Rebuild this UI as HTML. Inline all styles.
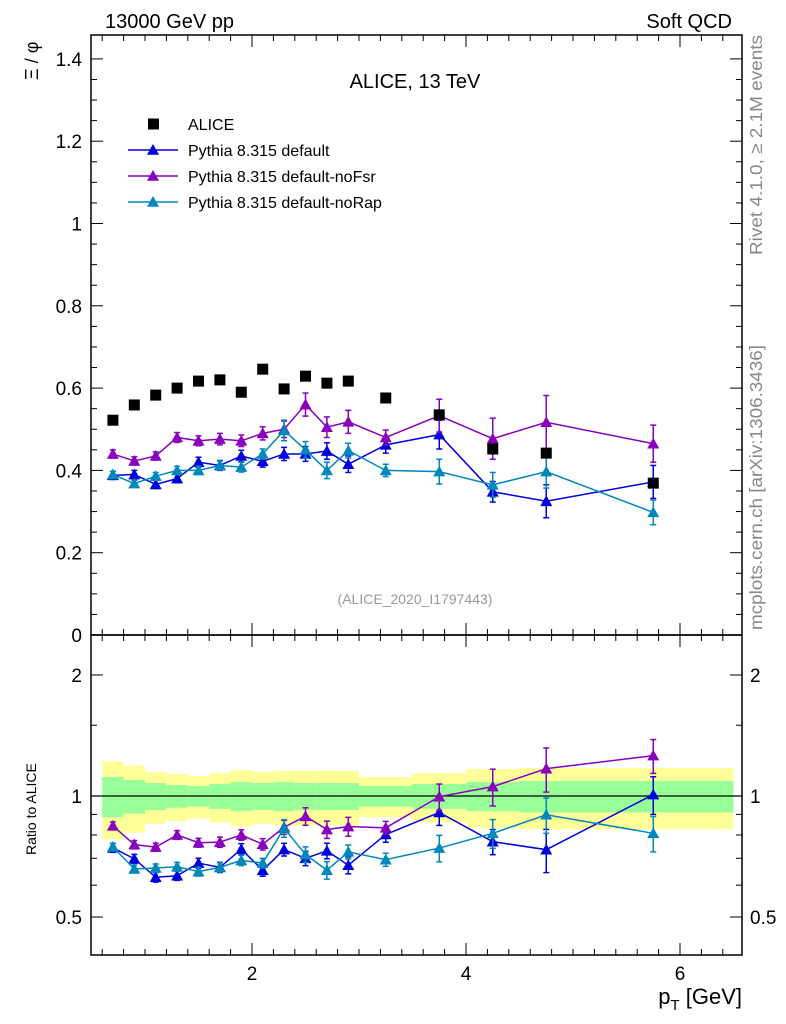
<!DOCTYPE html>
<html><head><meta charset="utf-8"><style>
html,body{margin:0;padding:0;background:#fff}
svg{display:block;font-family:"Liberation Sans",sans-serif}
</style></head><body>
<svg id="c" width="786" height="1024" viewBox="0 0 786 1024">
<text x="105" y="28" font-size="20">13000 GeV pp</text>
<text x="732" y="28" font-size="20" text-anchor="end">Soft QCD</text>
<text x="415" y="88" font-size="20" text-anchor="middle">ALICE, 13 TeV</text>
<text x="415" y="604" font-size="14" fill="#999" text-anchor="middle">(ALICE_2020_I1797443)</text>
<text transform="translate(38,80) rotate(-90)" font-size="18">Ξ / φ</text>
<text transform="translate(36,855) rotate(-90)" font-size="14">Ratio to ALICE</text>
<text x="742" y="1004" font-size="22" text-anchor="end">p<tspan font-size="15" dy="6">T</tspan><tspan dy="-6"> [GeV]</tspan></text>
<text transform="translate(762,255) rotate(-90)" font-size="17.5" fill="#888" textLength="220" lengthAdjust="spacingAndGlyphs">Rivet 4.1.0, ≥ 2.1M events</text>
<text transform="translate(762,630) rotate(-90)" font-size="17.5" fill="#888" textLength="285" lengthAdjust="spacingAndGlyphs">mcplots.cern.ch [arXiv:1306.3436]</text>
<g id="bands"></g>
<g id="axes"></g>
<g id="series"></g>
<g id="legend"></g>
</svg>
<script>
const xs = [0.7,0.9,1.1,1.3,1.5,1.7,1.9,2.1,2.3,2.5,2.7,2.9,3.25,3.75,4.25,4.75,5.75];
const binEdges = [0.6,0.8,1.0,1.2,1.4,1.6,1.8,2.0,2.2,2.4,2.6,2.8,3.0,3.5,4.0,4.5,5.0,6.5];
const alice = [0.522,0.559,0.583,0.600,0.617,0.620,0.590,0.646,0.598,0.629,0.612,0.617,0.576,0.535,0.452,0.442,0.369];
const statRel = [0.115,0.096,0.077,0.065,0.059,0.071,0.083,0.077,0.083,0.077,0.077,0.077,0.059,0.071,0.083,0.09,0.09];
const totRel = [0.22,0.19,0.147,0.134,0.121,0.14,0.16,0.147,0.155,0.155,0.155,0.155,0.115,0.14,0.167,0.174,0.174];
const pyDefault = [0.388,0.390,0.366,0.380,0.420,0.412,0.435,0.422,0.440,0.440,0.447,0.415,0.462,0.487,0.348,0.325,0.372];
const pyDefaultErr = [0.01,0.01,0.01,0.01,0.012,0.012,0.014,0.014,0.016,0.018,0.02,0.02,0.02,0.035,0.025,0.04,0.04];
const pyNoFsr = [0.440,0.423,0.435,0.480,0.472,0.476,0.472,0.490,0.500,0.560,0.505,0.518,0.480,0.533,0.477,0.517,0.465];
const pyNoFsrErr = [0.01,0.01,0.01,0.012,0.012,0.014,0.014,0.016,0.02,0.028,0.025,0.028,0.018,0.04,0.05,0.065,0.045];
const pyNoRap = [0.390,0.368,0.386,0.400,0.400,0.412,0.408,0.440,0.497,0.450,0.400,0.448,0.400,0.397,0.365,0.397,0.298];
const pyNoRapErr = [0.008,0.008,0.009,0.01,0.01,0.011,0.012,0.012,0.025,0.02,0.02,0.018,0.015,0.03,0.03,0.04,0.03];
const mainTicks = [0,0.2,0.4,0.6,0.8,1,1.2,1.4];
const mainTickLabels = ["0","0.2","0.4","0.6","0.8","1","1.2","1.4"];
const ratioTicks = [0.5,1,2];
const ratioTickLabels = ["0.5","1","2"];
const xTicks = [2,4,6];
const xTickLabels = ["2","4","6"];

const NS="http://www.w3.org/2000/svg";
const L=91,R=742,T=35,M=635,B=955;
const X=v=>252+(v-2)*107;
const Y=v=>M-411.5*v;
const RY=r=>796-121*Math.log2(r);
function mk(p,tag,a){const e=document.createElementNS(NS,tag);for(const k in a)e.setAttribute(k,a[k]);p.appendChild(e);return e;}
const gB=document.getElementById('bands'),gA=document.getElementById('axes'),gS=document.getElementById('series'),gL=document.getElementById('legend');

for(let i=0;i<alice.length;i++){
  const x0=X(binEdges[i]),x1=X(binEdges[i+1]);
  const y=mk(gB,'rect',{x:x0,y:RY(1+totRel[i]),width:x1-x0,height:RY(1-totRel[i])-RY(1+totRel[i]),fill:'#ffff99'});
  
  
  const g=mk(gB,'rect',{x:x0,y:RY(1+statRel[i]),width:x1-x0,height:RY(1-statRel[i])-RY(1+statRel[i]),fill:'#99ff99'});
  
  
}
mk(gB,'line',{x1:L,x2:R,y1:RY(1),y2:RY(1),stroke:'#000','stroke-width':1.2});

const f1=mk(gA,'rect',{x:L,y:T,width:R-L,height:M-T,fill:'none',stroke:'#000','stroke-width':1.5});


const f2=mk(gA,'rect',{x:L,y:M,width:R-L,height:B-M,fill:'none',stroke:'#000','stroke-width':1.5});



for(let v=0;v<=1.45;v+=0.05){const y=Y(v);if(y<T)continue;const maj=Math.abs(v*5-Math.round(v*5))<1e-6;const l=maj?12:6;
 mk(gA,'line',{x1:L,x2:L+l,y1:y,y2:y,stroke:'#000'});mk(gA,'line',{x1:R,x2:R-l,y1:y,y2:y,stroke:'#000'});}
mainTicks.forEach((v,i)=>{const t=mk(gA,'text',{x:82,y:Y(v)+7,'font-size':19,'text-anchor':'end'});t.textContent=mainTickLabels[i];
 
 });
[0.4,0.5,0.6,0.7,0.8,0.9,1,1.5,2].forEach(r=>{const y=RY(r);if(y>B||y<M)return;const maj=(r===0.5||r===1||r===2);const l=maj?12:6;
 mk(gA,'line',{x1:L,x2:L+l,y1:y,y2:y,stroke:'#000'});mk(gA,'line',{x1:R,x2:R-l,y1:y,y2:y,stroke:'#000'});});
ratioTicks.forEach((v,i)=>{const t=mk(gA,'text',{x:82,y:RY(v)+7,'font-size':19,'text-anchor':'end'});t.textContent=ratioTickLabels[i];
 
 
 const t2=mk(gA,'text',{x:750,y:RY(v)+7,'font-size':19});t2.textContent=ratioTickLabels[i];
 
 });
for(let v=0.6;v<=6.6;v+=0.2){const x=X(v);if(x<L||x>R)continue;const maj=Math.abs(v-Math.round(v))<1e-6&&Math.round(v)%2===0;const l=maj?12:6;
 [[M,-1],[B,-1],[T,1],[M,1]].forEach(([y,d])=>mk(gA,'line',{x1:x,x2:x,y1:y,y2:y+d*l,stroke:'#000'}));}
xTicks.forEach((v,i)=>{const t=mk(gA,'text',{x:X(v),y:980,'font-size':19,'text-anchor':'middle'});t.textContent=xTickLabels[i];
 
 });

function tri(g,x,y,c,s){return mk(g,'polygon',{points:`${x},${y-s} ${x-s},${y+s*0.8} ${x+s},${y+s*0.8}`,fill:c});}
function drawSeries(vals,errs,color,name){
  const g=mk(gS,'g',{});
  
  
  mk(g,'polyline',{points:xs.map((x,i)=>X(x)+','+Y(vals[i])).join(' '),fill:'none',stroke:color,'stroke-width':1.5});
  mk(g,'polyline',{points:xs.map((x,i)=>X(x)+','+RY(vals[i]/alice[i])).join(' '),fill:'none',stroke:color,'stroke-width':1.5});
  xs.forEach((x,i)=>{
    const px=X(x);
    [[Y(vals[i]+errs[i]),Y(vals[i]-errs[i]),Y(vals[i])],[RY((vals[i]+errs[i])/alice[i]),RY((vals[i]-errs[i])/alice[i]),RY(vals[i]/alice[i])]].forEach(([a,b,c])=>{
      mk(g,'line',{x1:px,x2:px,y1:a,y2:b,stroke:color,'stroke-width':1.5});
      mk(g,'line',{x1:px-3,x2:px+3,y1:a,y2:a,stroke:color,'stroke-width':1.5});
      mk(g,'line',{x1:px-3,x2:px+3,y1:b,y2:b,stroke:color,'stroke-width':1.5});
      const m=tri(g,px,c,color,6);
      
      
    });
  });
}
drawSeries(pyDefault,pyDefaultErr,'#0000dd','pythia-default-series');
drawSeries(pyNoFsr,pyNoFsrErr,'#8800bb','pythia-nofsr-series');
drawSeries(pyNoRap,pyNoRapErr,'#0088bb','pythia-norap-series');
xs.forEach((x,i)=>{const r=mk(gS,'rect',{x:X(x)-5.5,y:Y(alice[i])-5.5,width:11,height:11,fill:'#000'});
 
 });

const leg=[['ALICE','#000','sq'],['Pythia 8.315 default','#0000dd','t'],['Pythia 8.315 default-noFsr','#8800bb','t'],['Pythia 8.315 default-noRap','#0088bb','t']];
leg.forEach((e,i)=>{const y=124+26*i;const g=mk(gL,'g',{});
 
 
 if(e[2]==='sq')mk(g,'rect',{x:148,y:y-5.5,width:11,height:11,fill:e[1]});
 else{mk(g,'line',{x1:128,x2:178,y1:y,y2:y,stroke:e[1],'stroke-width':1.5});tri(g,153,y,e[1],6);}
 const t=mk(g,'text',{x:188,y:y+6,'font-size':16});t.textContent=e[0];});
</script>
</body></html>
